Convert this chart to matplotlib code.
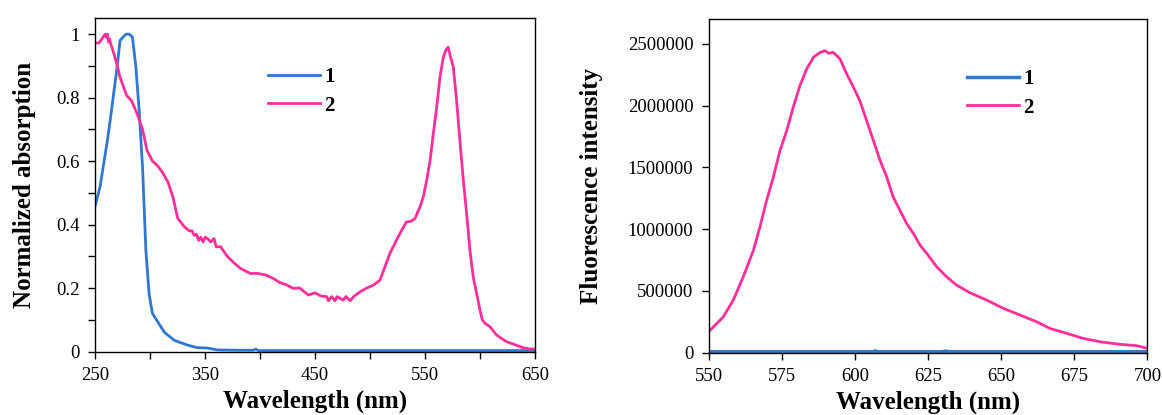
import matplotlib
matplotlib.use('Agg')
import matplotlib.pyplot as plt
from matplotlib.ticker import MultipleLocator

plt.rcParams['font.family'] = ['Liberation Serif', 'DejaVu Serif']

BLUE = '#2e78d2'
PINK = '#ff2e9b'

# absorption, compound 1
abs1_wl = [250, 254.4, 258, 261, 264, 267, 270, 272.5, 275, 278, 281, 283.8,
           286.8, 289.9, 293, 296, 299, 302, 306.5, 313, 322, 334, 343, 352,
           361, 380, 394, 396, 398, 420, 500, 600, 650]
abs1 = [0.46, 0.52, 0.60, 0.665, 0.74, 0.82, 0.90, 0.98, 0.99, 1.0, 1.0, 0.99,
        0.90, 0.76, 0.58, 0.32, 0.18, 0.12, 0.095, 0.06, 0.035, 0.02, 0.012, 0.011,
        0.005, 0.004, 0.004, 0.008, 0.003, 0.003, 0.003, 0.003, 0.003]

# absorption, compound 2
abs2_wl = [250, 253, 255, 257, 259, 260, 261, 262, 263, 264, 265, 267.6, 270, 272,
           275, 278.5, 283, 288, 293, 297, 302, 306.5, 311, 316, 320.5, 325, 331,
           335.6, 338, 340, 342, 344, 346, 348, 350, 352, 355, 358, 360, 364, 370,
           376, 382, 391, 398, 406, 412, 418, 424, 430, 436, 443.8, 450, 455, 460.5,
           462, 465, 468, 470, 475.6, 478, 482, 485, 490.8, 497, 503, 509, 513.5,
           518, 524, 528.7, 533, 537, 540.8, 545.4, 548.4, 551.5, 554.5, 557.5,
           560.6, 563.6, 566.6, 569, 571, 573, 575.7, 578.7, 581.7, 584.8, 587.8,
           590.8, 593.8, 596.9, 600, 602, 604.5, 609, 615, 624, 633, 639, 645, 650]
abs2 = [0.972, 0.972, 0.98, 0.99, 1.0, 0.99, 1.0, 0.975, 0.985, 0.97, 0.96, 0.93,
        0.90, 0.87, 0.84, 0.807, 0.79, 0.75, 0.70, 0.634, 0.60, 0.586, 0.565,
        0.535, 0.488, 0.42, 0.393, 0.38, 0.38, 0.366, 0.37, 0.35, 0.36, 0.345,
        0.36, 0.356, 0.345, 0.356, 0.33, 0.33, 0.30, 0.28, 0.262, 0.246, 0.246,
        0.24, 0.23, 0.217, 0.21, 0.199, 0.20, 0.178, 0.185, 0.175, 0.173, 0.16,
        0.173, 0.16, 0.173, 0.162, 0.173, 0.16, 0.173, 0.188, 0.2, 0.209, 0.225,
        0.267, 0.309, 0.351, 0.382, 0.408, 0.41, 0.419, 0.456, 0.487, 0.54, 0.60,
        0.687, 0.77, 0.865, 0.928, 0.95, 0.959, 0.93, 0.896, 0.79, 0.665, 0.54,
        0.435, 0.32, 0.235, 0.183, 0.13, 0.1, 0.089, 0.078, 0.052, 0.031, 0.02,
        0.012, 0.008, 0.008]

# fluorescence, compound 1
fl1_wl = [550, 575, 600, 606, 607, 608, 620, 630, 631, 632, 650, 675, 700]
fl1 = [8000, 8000, 8000, 8000, 14000, 8000, 8000, 8000, 14000, 8000, 8000, 8000, 8000]

# fluorescence, compound 2
fl2_wl = [550, 555, 558.4, 561.8, 565.3, 567.5, 569.8, 572.1, 574.4, 576.7, 578.9,
          581.2, 583.5, 585.8, 588.1, 589.8, 591, 592.6, 594.9, 597.2, 599.5, 601.7,
          604, 606.3, 608.6, 610.9, 613.1, 615.4, 617.7, 620, 622.3, 624.6, 628,
          631.4, 634.8, 639.4, 645.1, 650.8, 656.5, 662.2, 666.7, 672.4, 678.1,
          683.8, 690.7, 696.4, 700]
fl2 = [170000, 291000, 426000, 614000, 830000, 1018000, 1234000, 1422000, 1640000,
       1800000, 1988000, 2163000, 2298000, 2392000, 2432000, 2446000, 2425000,
       2432000, 2379000, 2257000, 2150000, 2040000, 1880000, 1719000, 1557000,
       1422000, 1260000, 1153000, 1046000, 965000, 870000, 803000, 695000, 614000,
       547000, 485000, 426000, 359000, 305000, 250000, 197000, 157000, 116000,
       89000, 68000, 57000, 36000]

abs_xticks = [250, 350, 450, 550, 650]

label_font = {'fontsize': 18, 'fontweight': 'bold'}

fig = plt.figure(figsize=(11.62, 4.15), dpi=100)
ax1 = fig.add_axes([0.082, 0.153, 0.3784, 0.803])
ax2 = fig.add_axes([0.6099, 0.150, 0.3775, 0.8035])

# left: absorption
ax1.plot(abs1_wl, abs1, color=BLUE, lw=2, label='1')
ax1.plot(abs2_wl, abs2, color=PINK, lw=2, label='2')
ax1.set_xlim(250, 650)
ax1.set_ylim(0, 1.05)
ax1.set_xticks(abs_xticks)
ax1.xaxis.set_minor_locator(MultipleLocator(50))
ax1.yaxis.set_major_locator(MultipleLocator(0.2))
ax1.yaxis.set_minor_locator(MultipleLocator(0.1))
ax1.yaxis.set_major_formatter(lambda v, p: '%g' % round(v, 1))
ax1.set_xlabel('Wavelength (nm)', labelpad=4, **label_font)
ax1.set_ylabel('Normalized absorption', labelpad=15, **label_font)
ax1.legend(loc='upper left', bbox_to_anchor=(0.392, 0.853), frameon=False,
           handlelength=2.5, handletextpad=0.2, borderpad=0, borderaxespad=0,
           labelspacing=0.4, prop={'size': 15, 'weight': 'bold'})

# right: fluorescence
ax2.plot(fl1_wl, fl1, color=BLUE, lw=2.5, label='1')
ax2.plot(fl2_wl, fl2, color=PINK, lw=2, label='2')
ax2.set_xlim(550, 700)
ax2.set_ylim(0, 2700000)
ax2.xaxis.set_major_locator(MultipleLocator(25))
ax2.yaxis.set_major_locator(MultipleLocator(500000))
ax2.yaxis.set_major_formatter(lambda v, p: '%d' % v)
ax2.set_xlabel('Wavelength (nm)', labelpad=4, **label_font)
ax2.set_ylabel('Fluorescence intensity', labelpad=18, **label_font)
ax2.legend(loc='upper left', bbox_to_anchor=(0.589, 0.85), frameon=False,
           handlelength=2.5, handletextpad=0.2, borderpad=0, borderaxespad=0,
           labelspacing=0.4, prop={'size': 15, 'weight': 'bold'})

for ax in (ax1, ax2):
    for s in ax.spines.values():
        s.set_linewidth(1)
        s.set_color('black')
    ax.tick_params(which='both', direction='out', length=5, width=1,
                   labelsize=13.5, colors='black')
    ax.tick_params(axis='x', pad=6)
    ax.tick_params(axis='y', pad=6)

fig.savefig('out.png', dpi=100)
